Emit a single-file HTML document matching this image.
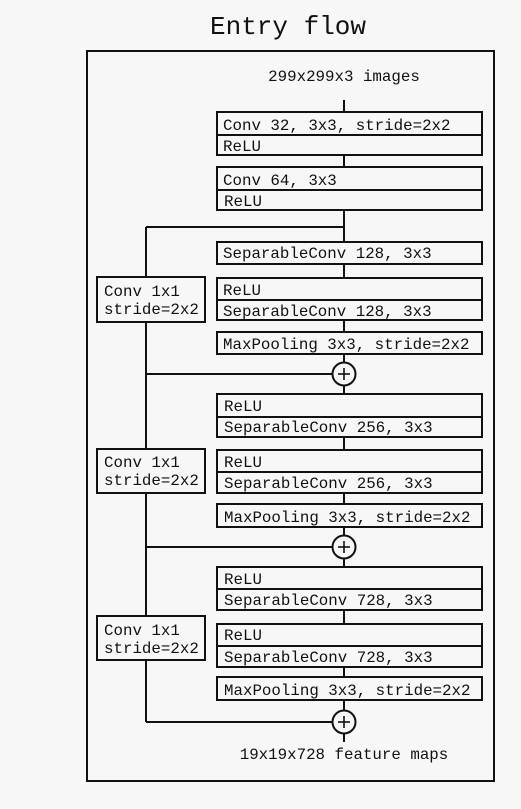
<!DOCTYPE html>
<html><head><meta charset="utf-8"><style>
html,body{margin:0;padding:0;background:#f7f7f7;}
svg text{font-family:"Liberation Mono","DejaVu Sans Mono",monospace;fill:#111;}
</style></head><body>
<svg width="521" height="804" viewBox="0 0 521 804" xmlns="http://www.w3.org/2000/svg">
<g fill="none" stroke="#111" stroke-width="2">
<rect x="87" y="51" width="407" height="730"/>
<!-- main vertical line -->
<line x1="344" y1="100" x2="344" y2="742"/>
<!-- left branch lines -->
<line x1="146" y1="227" x2="344" y2="227"/>
<line x1="146" y1="227" x2="146" y2="722"/>
<line x1="146" y1="374" x2="332" y2="374"/>
<line x1="146" y1="547" x2="332" y2="547"/>
<line x1="146" y1="722" x2="332" y2="722"/>
</g>
<g fill="#f7f7f7" stroke="#111" stroke-width="2">
<rect x="217" y="112" width="265" height="43"/>
<rect x="217" y="167" width="265" height="43"/>
<rect x="217" y="242" width="265" height="22"/>
<rect x="217" y="278" width="265" height="42"/>
<rect x="217" y="332" width="265" height="22"/>
<rect x="217" y="394" width="265" height="43"/>
<rect x="217" y="450" width="265" height="43"/>
<rect x="217" y="504" width="265" height="23"/>
<rect x="217" y="567" width="265" height="43"/>
<rect x="217" y="624" width="265" height="43"/>
<rect x="217" y="677" width="265" height="23"/>
<rect x="97" y="277" width="108" height="45"/>
<rect x="97" y="449" width="108" height="44"/>
<rect x="97" y="616" width="108" height="44"/>
<circle cx="344" cy="374" r="11.5"/>
<circle cx="344" cy="547" r="11.5"/>
<circle cx="344" cy="722" r="11.5"/>
</g>
<g stroke="#111" stroke-width="2">
<line x1="217" y1="135" x2="482" y2="135"/>
<line x1="217" y1="190" x2="482" y2="190"/>
<line x1="217" y1="300" x2="482" y2="300"/>
<line x1="217" y1="417" x2="482" y2="417"/>
<line x1="217" y1="472" x2="482" y2="472"/>
<line x1="217" y1="589" x2="482" y2="589"/>
<line x1="217" y1="646" x2="482" y2="646"/>
<g stroke-width="1.6">
<line x1="338" y1="374" x2="350" y2="374"/><line x1="344" y1="368" x2="344" y2="380"/>
<line x1="338" y1="547" x2="350" y2="547"/><line x1="344" y1="541" x2="344" y2="553"/>
<line x1="338" y1="722" x2="350" y2="722"/><line x1="344" y1="716" x2="344" y2="728"/>
</g>
</g>
<text x="288" y="34" font-size="26" text-anchor="middle">Entry flow</text>
<text x="344" y="81" font-size="15.8" text-anchor="middle">299x299x3 images</text>
<text x="344" y="759" font-size="15.8" text-anchor="middle">19x19x728 feature maps</text>
<g font-size="15.8">
<text x="223" y="130">Conv 32, 3x3, stride=2x2</text>
<text x="223" y="151">ReLU</text>
<text x="223" y="185">Conv 64, 3x3</text>
<text x="224" y="206">ReLU</text>
<text x="223" y="258">SeparableConv 128, 3x3</text>
<text x="223" y="295">ReLU</text>
<text x="223" y="316">SeparableConv 128, 3x3</text>
<text x="223" y="349">MaxPooling 3x3, stride=2x2</text>
<text x="224" y="411">ReLU</text>
<text x="224" y="432">SeparableConv 256, 3x3</text>
<text x="224" y="467">ReLU</text>
<text x="224" y="488">SeparableConv 256, 3x3</text>
<text x="224" y="522">MaxPooling 3x3, stride=2x2</text>
<text x="224" y="584">ReLU</text>
<text x="224" y="605">SeparableConv 728, 3x3</text>
<text x="224" y="640">ReLU</text>
<text x="224" y="662">SeparableConv 728, 3x3</text>
<text x="224" y="695">MaxPooling 3x3, stride=2x2</text>
<text x="104" y="296">Conv 1x1</text>
<text x="104" y="314">stride=2x2</text>
<text x="104" y="467">Conv 1x1</text>
<text x="104" y="485">stride=2x2</text>
<text x="104" y="635">Conv 1x1</text>
<text x="104" y="653">stride=2x2</text>
</g>
</svg>
</body></html>
